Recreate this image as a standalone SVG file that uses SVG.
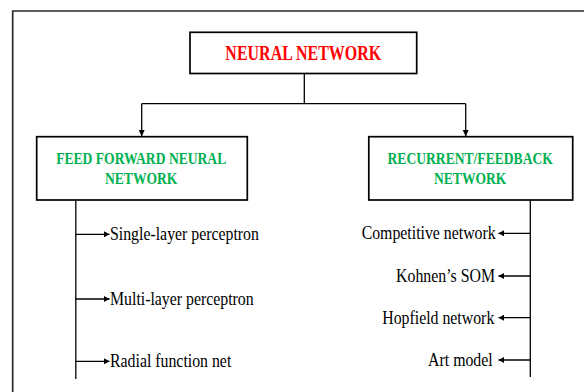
<svg xmlns="http://www.w3.org/2000/svg" width="584" height="392" viewBox="0 0 584 392">
<defs>
<style>
.frame{fill:none;stroke:#2a2a2a;stroke-width:1.7}
.box{fill:#fff;stroke:#000;stroke-width:1.7}
.ln{fill:none;stroke:#000;stroke-width:1.3}
.hd{font-weight:bold;text-anchor:middle}
.red{fill:#ff0000;font-size:20.5px}
.grn{fill:#00b050;font-size:17px}
.it{font-size:18px;fill:#000}
.r{text-anchor:end}
</style>
<marker id="ad" markerWidth="8" markerHeight="8" refX="7" refY="4" orient="auto" markerUnits="userSpaceOnUse">
<path d="M0,0.8 L7,4 L0,7.2 Z" fill="#000"/>
</marker>
<marker id="as" markerWidth="6" markerHeight="6" refX="5.5" refY="3" orient="auto" markerUnits="userSpaceOnUse">
<path d="M0,0 L5.5,3 L0,6 Z" fill="#000"/>
</marker>
</defs>
<rect width="584" height="392" fill="#fff"/>
<path class="frame" d="M12.7,400 V11 H600"/>
<g id="connectors">
<path class="ln" d="M304.3,73.5 V103.7"/>
<path class="ln" d="M141.7,103.7 H465.7"/>
<path class="ln" d="M141.7,103.7 V136.5" marker-end="url(#ad)"/>
<path class="ln" d="M465.7,103.7 V136.5" marker-end="url(#ad)"/>
<path class="ln" d="M75.8,200 V379"/>
<path class="ln" d="M75.8,234.3 H109.5" marker-end="url(#as)"/>
<path class="ln" d="M75.8,299 H109.5" marker-end="url(#as)"/>
<path class="ln" d="M75.8,361.3 H109.5" marker-end="url(#as)"/>
<path class="ln" d="M530.3,200 V377"/>
<path class="ln" d="M530.3,233.3 H498.5" marker-end="url(#as)"/>
<path class="ln" d="M530.3,276 H498.5" marker-end="url(#as)"/>
<path class="ln" d="M530.3,317.7 H498.5" marker-end="url(#as)"/>
<path class="ln" d="M530.3,360 H498.5" marker-end="url(#as)"/>
</g>
<g font-family="'Liberation Serif', 'Times New Roman', serif">
<g id="neural-network">
<rect class="box" x="190" y="32.3" width="226.7" height="41.2"/>
<text class="hd red" transform="translate(303.3,60) scale(0.78,1)">NEURAL NETWORK</text>
</g>
<g id="feed-forward">
<rect class="box" x="36.7" y="136.7" width="210.6" height="63.3"/>
<text class="hd grn" transform="translate(141.2,164) scale(0.8,1)">FEED FORWARD NEURAL</text>
<text class="hd grn" transform="translate(141.2,184.3) scale(0.8,1)">NETWORK</text>
</g>
<g id="recurrent">
<rect class="box" x="368.8" y="136.7" width="203.9" height="63.3"/>
<text class="hd grn" transform="translate(470.2,164) scale(0.8,1)">RECURRENT/FEEDBACK</text>
<text class="hd grn" transform="translate(470.2,184.3) scale(0.8,1)">NETWORK</text>
</g>
<g id="single-layer"><text class="it" transform="translate(110,240.1) scale(0.88,1)">Single-layer perceptron</text></g>
<g id="multi-layer"><text class="it" transform="translate(110,304.8) scale(0.88,1)">Multi-layer perceptron</text></g>
<g id="radial"><text class="it" transform="translate(110,367.1) scale(0.88,1)">Radial function net</text></g>
<g id="competitive"><text class="it r" transform="translate(495.7,239.1) scale(0.88,1)">Competitive network</text></g>
<g id="kohnen"><text class="it r" transform="translate(495,281.8) scale(0.88,1)">Kohnen’s SOM</text></g>
<g id="hopfield"><text class="it r" transform="translate(494.3,323.5) scale(0.88,1)">Hopfield network</text></g>
<g id="art"><text class="it r" transform="translate(492.7,365.8) scale(0.88,1)">Art model</text></g>
</g>
</svg>
